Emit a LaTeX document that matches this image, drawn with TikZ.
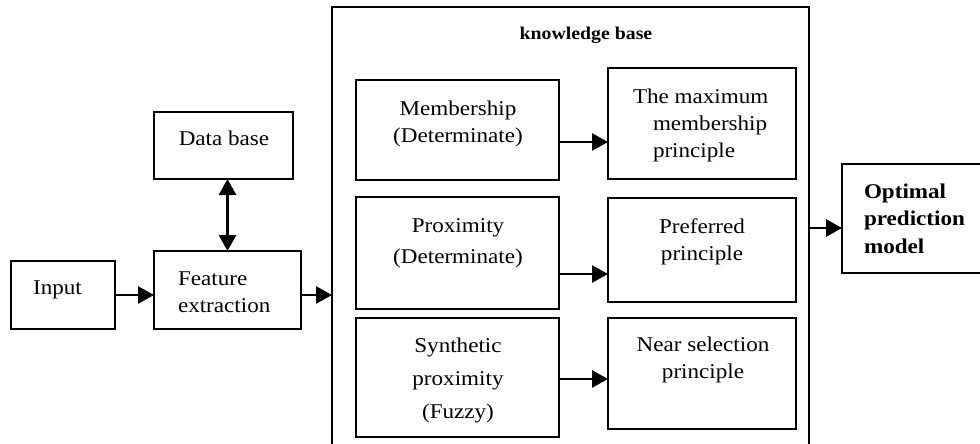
\documentclass[tikz,border=0pt]{standalone}
\usepackage{fontspec}
\setmainfont{Liberation Serif}[FakeStretch=1.1]
\usetikzlibrary{arrows.meta}
\begin{document}
\begin{tikzpicture}[x=1pt,y=-1pt,
  box/.style={draw, line width=1.9pt, rectangle, inner sep=0pt, outer sep=0pt},
  txt/.style={inner sep=0pt, outer sep=0pt, font=\fontsize{21}{27}\selectfont},
  arr/.style={line width=2.8pt, -{Triangle[length=16pt,width=17pt]}},
  darr/.style={line width=2.8pt, {Triangle[length=16pt,width=17pt]}-{Triangle[length=16pt,width=17pt]}}]
\useasboundingbox (0,0) rectangle (980,444);
\clip (0,0) rectangle (980,444);
% boxes
\node[box, minimum width=104, minimum height=68] (input) at (63,295) {};
\node[box, minimum width=139, minimum height=67] (db) at (223.5,145.5) {};
\node[box, minimum width=147, minimum height=78] (feat) at (227.5,290) {};
\node[box, minimum width=477, minimum height=470] (kb) at (570.5,242) {};
\node[box, minimum width=203, minimum height=100] (mem) at (457.5,130) {};
\node[box, minimum width=203, minimum height=112] (prox) at (457.5,253) {};
\node[box, minimum width=203, minimum height=119] (syn) at (457.5,377.5) {};
\node[box, minimum width=188, minimum height=111] (maxp) at (702,123.5) {};
\node[box, minimum width=188, minimum height=104] (pref) at (702,250) {};
\node[box, minimum width=188, minimum height=111] (near) at (702,373.5) {};
\node[box, minimum width=170, minimum height=109] (opt) at (927,218.5) {};
% texts (anchor base = baseline of the last line)
\node[txt, anchor=base] (dbt) at (224,145) {Data base};
\node[txt, anchor=base] (inpt) at (57.5,294) {Input};
\node[txt, anchor=base west, align=left] (fet) at (178,312) {Feature\\extraction};
\node[txt, anchor=base, font=\fontsize{18}{22}\selectfont\bfseries] (kbt) at (586,40) {knowledge base};
\node[txt, anchor=base, align=center] (memt) at (458,142) {Membership\\(Determinate)};
\node[txt, anchor=base, align=center, font=\fontsize{21}{31}\selectfont] (prxt) at (458,263) {Proximity\\(Determinate)};
\node[txt, anchor=base, align=center, font=\fontsize{21}{33}\selectfont] (synt) at (458,418) {Synthetic\\proximity\\(Fuzzy)};
\node[txt, anchor=base west, align=left] (maxt) at (633,157) {The maximum\\\hspace*{20pt}membership\\\hspace*{20pt}principle};
\node[txt, anchor=base, align=center] (preft) at (702,260) {Preferred\\principle};
\node[txt, anchor=base, align=center] (neart) at (703,378) {Near selection\\principle};
\node[txt, anchor=base west, align=left, font=\fontsize{21}{27.5}\selectfont\bfseries] (optt) at (864,253) {Optimal\\prediction\\model};
% connectors
\draw[arr] (input.east) -- (input.east -| feat.west);
\draw[arr] (input.east -| feat.east) -- (input.east -| kb.west);
\draw[darr] (feat.north |- db.south) -- (feat.north);
\draw[arr] ([yshift=-12pt]mem.east) -- ([yshift=-12pt]mem.east -| maxp.west);
\draw[arr] ([yshift=-21pt]prox.east) -- ([yshift=-21pt]prox.east -| pref.west);
\draw[arr] ([yshift=-1.5pt]syn.east) -- ([yshift=-1.5pt]syn.east -| near.west);
\draw[arr] ([yshift=-9.5pt]opt.west -| kb.east) -- ([yshift=-9.5pt]opt.west);
\end{tikzpicture}
\end{document}
